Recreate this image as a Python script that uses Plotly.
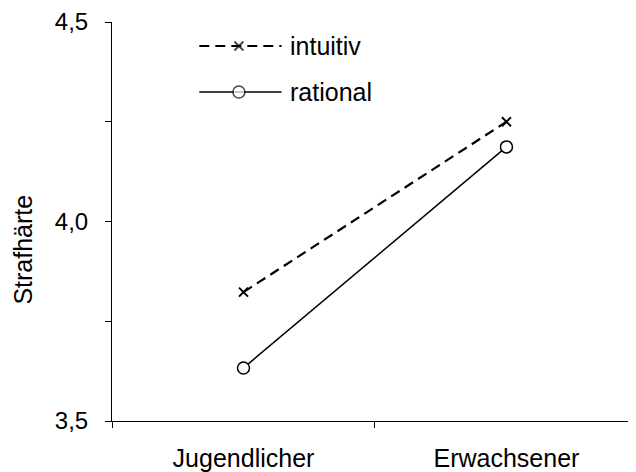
import plotly.graph_objects as go

categories = ["Jugendlicher", "Erwachsener"]
intuitiv = [3.823, 4.25]
rational = [3.633, 4.187]
y_tickvals = [3.5, 3.75, 4.0, 4.25, 4.5]
y_ticktext = ["3,5", "", "4,0", "", "4,5"]
series_names = ["intuitiv", "rational"]
y_title = "Strafhärte"

FONT = "Liberation Sans, Arial, sans-serif"

fig = go.Figure()

fig.add_trace(go.Scatter(
    x=categories, y=intuitiv, mode="lines+markers", name=series_names[0],
    line=dict(color="black", width=2.2, dash="10px,6px"),
    marker=dict(symbol="x-thin", size=9, line=dict(color="black", width=2)),
    showlegend=False))
fig.add_trace(go.Scatter(
    x=categories, y=rational, mode="lines+markers", name=series_names[1],
    line=dict(color="black", width=1.5),
    marker=dict(symbol="circle", size=12, color="white",
                line=dict(color="black", width=1.5)),
    showlegend=False))

# manual legend on a hidden overlay axis (pixel-like units of the plot area)
leg_x = [86, 125, 167]
leg_y = [375, 329]
fig.add_trace(go.Scatter(
    x=leg_x, y=[leg_y[0]] * 3, xaxis="x2", yaxis="y2", mode="lines+markers",
    line=dict(color="black", width=2.2, dash="10px,6px"),
    marker=dict(symbol="x-thin", size=[0, 9, 0],
                line=dict(color="black", width=[0, 2, 0])),
    showlegend=False, hoverinfo="skip"))
fig.add_trace(go.Scatter(
    x=leg_x, y=[leg_y[1]] * 3, xaxis="x2", yaxis="y2", mode="lines+markers",
    line=dict(color="black", width=1.5),
    marker=dict(symbol="circle", size=[0, 12, 0], color="white",
                line=dict(color="black", width=[0, 1.5, 0])),
    showlegend=False, hoverinfo="skip"))
for name, yy in zip(series_names, leg_y):
    fig.add_annotation(x=173, y=yy, xref="x2", yref="y2", text=name,
                       showarrow=False, xanchor="left", yanchor="middle",
                       font=dict(family=FONT, size=25, color="black"))

# y-axis title (placed slightly below the axis centre, as in the original)
fig.add_annotation(x=-0.167, y=0.43, xref="paper", yref="paper", text=y_title,
                   textangle=-90, showarrow=False, xanchor="center", yanchor="middle",
                   font=dict(family=FONT, size=25, color="black"))

fig.update_layout(
    width=636, height=472,
    margin=dict(l=104, r=0, t=14, b=59),
    paper_bgcolor="white", plot_bgcolor="white",
    font=dict(family=FONT, color="black"),
    xaxis=dict(
        type="category", range=[-0.5, 1.523], tickson="boundaries",
        ticks="outside", ticklen=6, tickcolor="black", tickwidth=1,
        showline=True, linecolor="black", linewidth=1, showgrid=False,
        zeroline=False, tickfont=dict(family=FONT, size=25, color="black"),
        ticklabelstandoff=15, automargin=False),
    yaxis=dict(
        range=[3.5, 4.5], tickvals=y_tickvals, ticktext=y_ticktext,
        ticks="outside", ticklen=6, tickcolor="black", tickwidth=1,
        showline=True, linecolor="black", linewidth=1, showgrid=False,
        zeroline=False, tickfont=dict(family=FONT, size=24, color="black"),
        ticklabelstandoff=12, automargin=False),
    xaxis2=dict(overlaying="x", range=[0, 524], visible=False, fixedrange=True),
    yaxis2=dict(overlaying="y", range=[0, 399], visible=False, fixedrange=True),
)

fig.write_html("out.html")
